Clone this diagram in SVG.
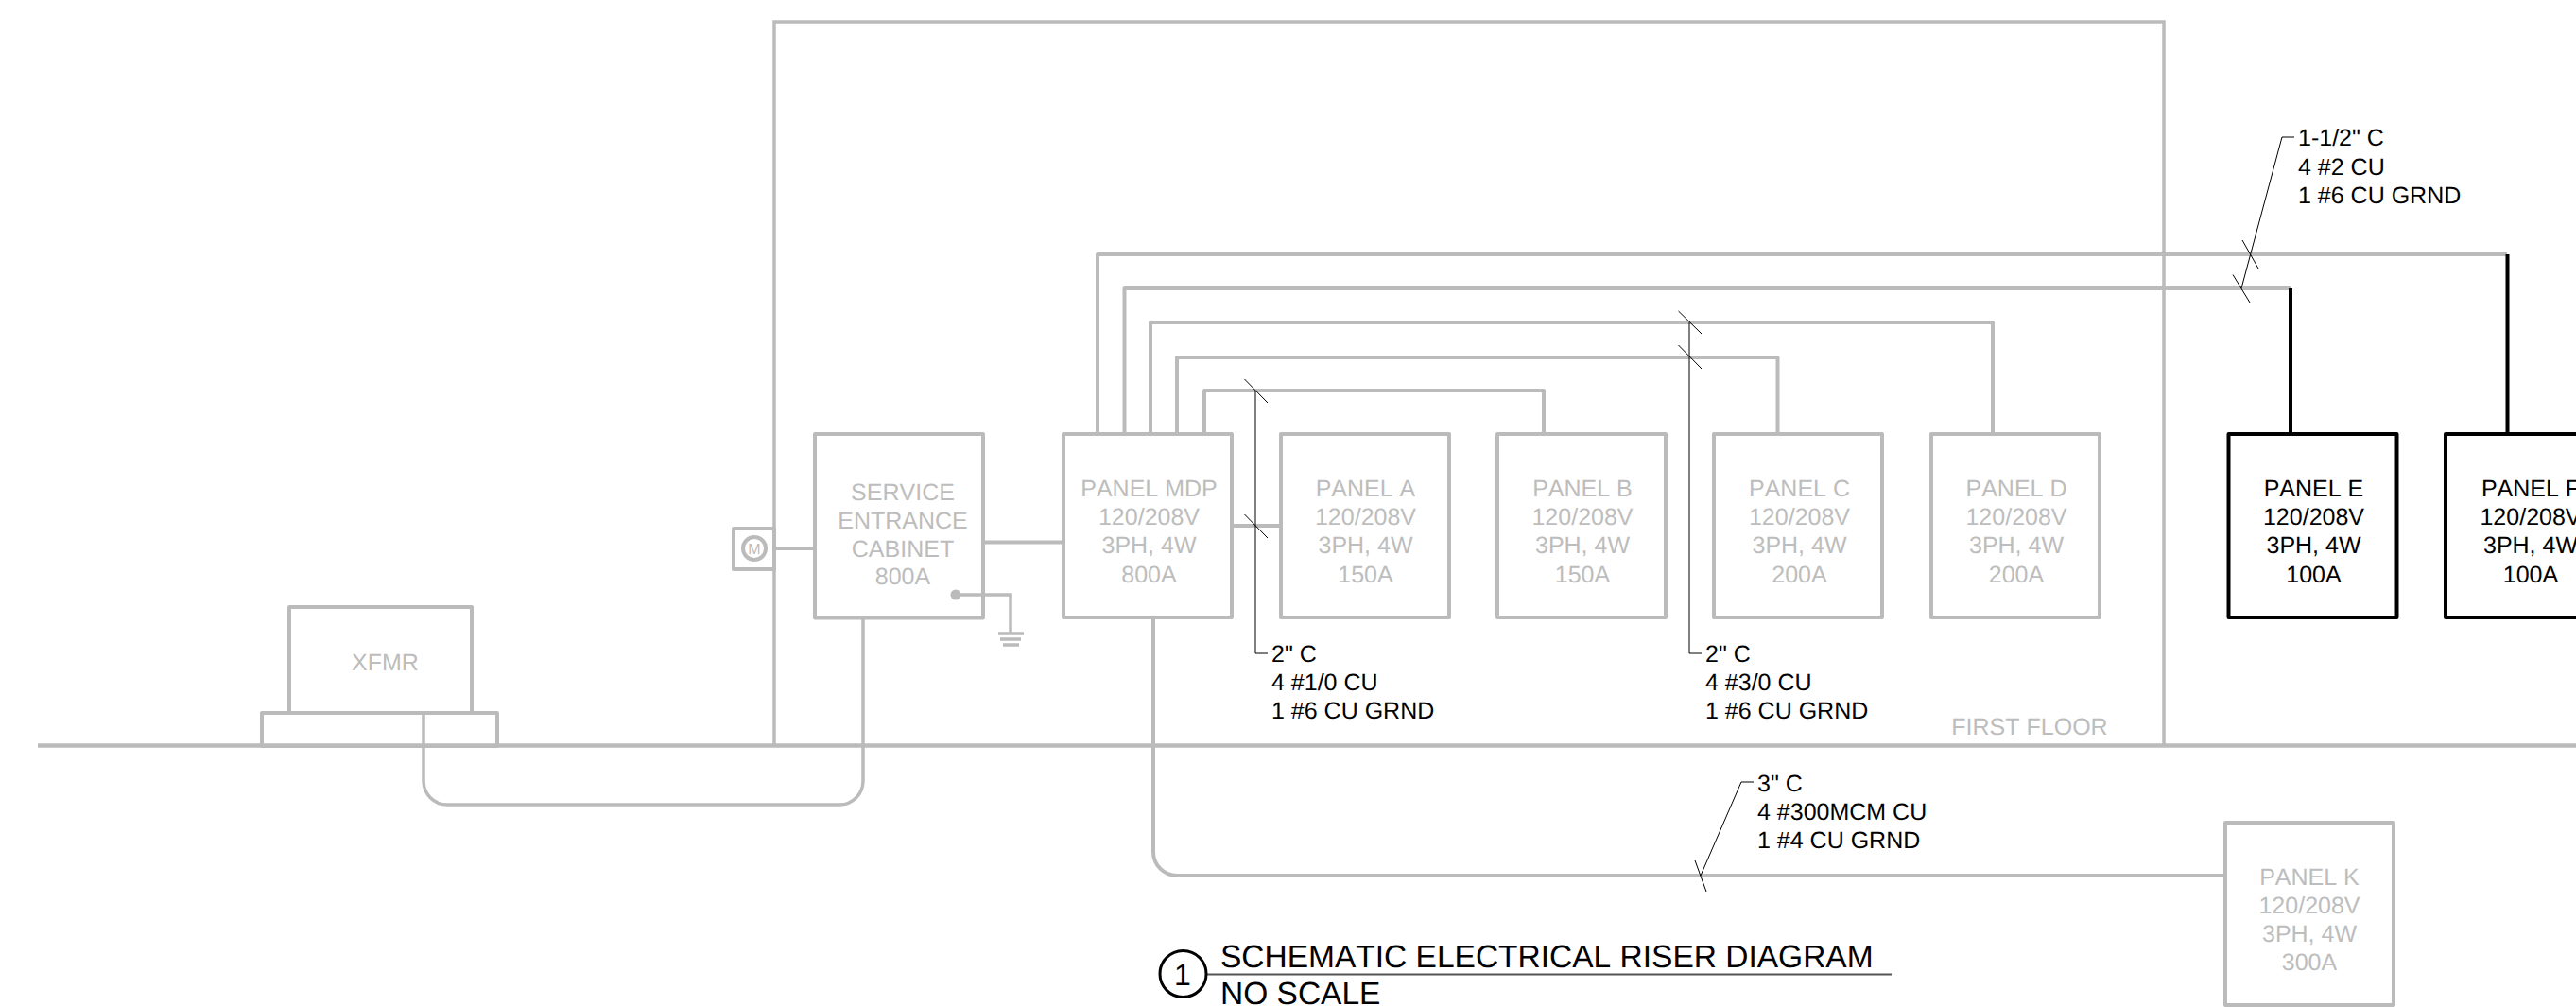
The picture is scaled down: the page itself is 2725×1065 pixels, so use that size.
<svg xmlns="http://www.w3.org/2000/svg" width="2725" height="1065" viewBox="0 0 2725 1065">
<style>
.g{fill:none;stroke:#bbb;stroke-width:4;stroke-linejoin:round}
.t{fill:none;stroke:#bbb;stroke-width:3.5}
.h{fill:none;stroke:#bbb;stroke-width:4.5}
.k{fill:none;stroke:#000;stroke-width:4;stroke-linejoin:round}
.l{fill:none;stroke:#000;stroke-width:1}
text{font-family:"Liberation Sans",Arial,sans-serif;font-size:25px;font-kerning:none;text-rendering:geometricPrecision}
.gt{fill:#bdbdbd;text-anchor:middle}
.kt{fill:#000;text-anchor:middle}
.n{fill:#000;font-size:25px}
.tt{font-size:33.500px}
</style>
<rect width="2725" height="1065" fill="#fff"/>
<g id="connectors">
<path class="h" d="M40 788.500H2725"/>
<path class="t" d="M819 788V23H2289V788"/>
<path class="t" d="M448 754V826a25 25 0 0 0 25 25H888a25 25 0 0 0 25-25V654"/>
<path class="g" d="M819 580H862"/>
<path class="g" d="M1040 573.500H1125"/>
<path class="g" d="M1303 556H1355"/>
<path class="g" d="M1161 459V269H2652"/>
<path class="g" d="M1189.500 459V305H2423"/>
<path class="g" d="M1217 459V341H2108V459"/>
<path class="g" d="M1245 459V378H1880.500V459"/>
<path class="g" d="M1274 459V413H1633V459"/>
<path class="k" d="M2423 305V459"/>
<path class="k" d="M2652.500 269V459"/>
<path class="g" d="M1220 653V901a25 25 0 0 0 25 25H2354"/>
<path class="l" d="M1341 691H1328V413M1316.500 401L1341 426M1316.500 544L1341 569"/>
<path class="l" d="M1800 691H1787V341M1775.500 329L1800 353M1775.500 365L1800 390"/>
<path class="l" d="M2427 145H2414L2371 305M2372 254L2389 284M2362 290.500L2380 320"/>
<path class="l" d="M1855 827H1842L1799 926M1793 910L1805 943"/>
</g>
<g id="xfmr">
<rect class="g" x="306" y="642" width="193" height="112"/>
<rect class="g" x="277" y="754" width="249" height="35"/>
<text class="gt" x="407.500" y="709">XFMR</text>
</g>
<g id="meter">
<rect class="g" x="776" y="559" width="43" height="43"/>
<circle cx="798" cy="580" r="12" fill="none" stroke="#bbb" stroke-width="4"/>
<text class="gt" x="798" y="586" style="font-size:16px">M</text>
</g>
<g id="service-entrance-cabinet">
<rect class="g" x="862" y="459" width="178" height="194.500"/>
<text class="gt" x="955" y="529">SERVICE</text>
<text class="gt" x="955" y="559">ENTRANCE</text>
<text class="gt" x="955" y="589">CABINET</text>
<text class="gt" x="955" y="618">800A</text>
</g>
<g id="ground">
<circle cx="1011" cy="629" r="5.500" fill="#bbb"/>
<path class="t" d="M1011 629H1069V670M1056 670H1083M1058 676H1080M1061 682H1078"/>
</g>
<g id="panel-mdp">
<rect class="g" x="1125" y="459" width="178" height="194"/>
<text class="gt" x="1215.500" y="525">PANEL MDP</text>
<text class="gt" x="1215.500" y="555">120/208V</text>
<text class="gt" x="1215.500" y="585">3PH, 4W</text>
<text class="gt" x="1215.500" y="616">800A</text>
</g>
<g id="panel-a">
<rect class="g" x="1355" y="459" width="178" height="194"/>
<text class="gt" x="1444.500" y="525">PANEL A</text>
<text class="gt" x="1444.500" y="555">120/208V</text>
<text class="gt" x="1444.500" y="585">3PH, 4W</text>
<text class="gt" x="1444.500" y="616">150A</text>
</g>
<g id="panel-b">
<rect class="g" x="1584" y="459" width="178" height="194"/>
<text class="gt" x="1674" y="525">PANEL B</text>
<text class="gt" x="1674" y="555">120/208V</text>
<text class="gt" x="1674" y="585">3PH, 4W</text>
<text class="gt" x="1674" y="616">150A</text>
</g>
<g id="panel-c">
<rect class="g" x="1813" y="459" width="178" height="194"/>
<text class="gt" x="1903.500" y="525">PANEL C</text>
<text class="gt" x="1903.500" y="555">120/208V</text>
<text class="gt" x="1903.500" y="585">3PH, 4W</text>
<text class="gt" x="1903.500" y="616">200A</text>
</g>
<g id="panel-d">
<rect class="g" x="2043" y="459" width="178" height="194"/>
<text class="gt" x="2133" y="525">PANEL D</text>
<text class="gt" x="2133" y="555">120/208V</text>
<text class="gt" x="2133" y="585">3PH, 4W</text>
<text class="gt" x="2133" y="616">200A</text>
</g>
<g id="panel-e">
<rect class="k" x="2357.500" y="459" width="178" height="194"/>
<text class="kt" x="2447.500" y="525">PANEL E</text>
<text class="kt" x="2447.500" y="555">120/208V</text>
<text class="kt" x="2447.500" y="585">3PH, 4W</text>
<text class="kt" x="2447.500" y="616">100A</text>
</g>
<g id="panel-f">
<rect class="k" x="2587" y="459" width="178" height="194"/>
<text class="kt" x="2677" y="525">PANEL F</text>
<text class="kt" x="2677" y="555">120/208V</text>
<text class="kt" x="2677" y="585">3PH, 4W</text>
<text class="kt" x="2677" y="616">100A</text>
</g>
<g id="panel-k">
<rect class="g" x="2354" y="870" width="178" height="193"/>
<text class="gt" x="2443" y="936">PANEL K</text>
<text class="gt" x="2443" y="966">120/208V</text>
<text class="gt" x="2443" y="996">3PH, 4W</text>
<text class="gt" x="2443" y="1026">300A</text>
</g>
<g id="labels">
<text class="gt" x="2147" y="777">FIRST FLOOR</text>
<text class="n" x="1345" y="699.500">2" C</text>
<text class="n" x="1345" y="730">4 #1/0 CU</text>
<text class="n" x="1345" y="760">1 #6 CU GRND</text>
<text class="n" x="1804" y="699.500">2" C</text>
<text class="n" x="1804" y="730">4 #3/0 CU</text>
<text class="n" x="1804" y="760">1 #6 CU GRND</text>
<text class="n" x="2431" y="154">1-1/2" C</text>
<text class="n" x="2431" y="184.500">4 #2 CU</text>
<text class="n" x="2431" y="215">1 #6 CU GRND</text>
<text class="n" x="1859" y="837">3" C</text>
<text class="n" x="1859" y="867">4 #300MCM CU</text>
<text class="n" x="1859" y="897">1 #4 CU GRND</text>
</g>
<g id="title">
<path d="M1276 1030.500H2001" fill="none" stroke="#555" stroke-width="2"/>
<circle cx="1251.500" cy="1030" r="24.500" fill="#fff" stroke="#000" stroke-width="3"/>
<text x="1251" y="1042" text-anchor="middle" style="font-size:32px">1</text>
<text class="tt" x="1291" y="1023">SCHEMATIC ELECTRICAL RISER DIAGRAM</text>
<text class="tt" x="1291" y="1062">NO SCALE</text>
</g>
</svg>
